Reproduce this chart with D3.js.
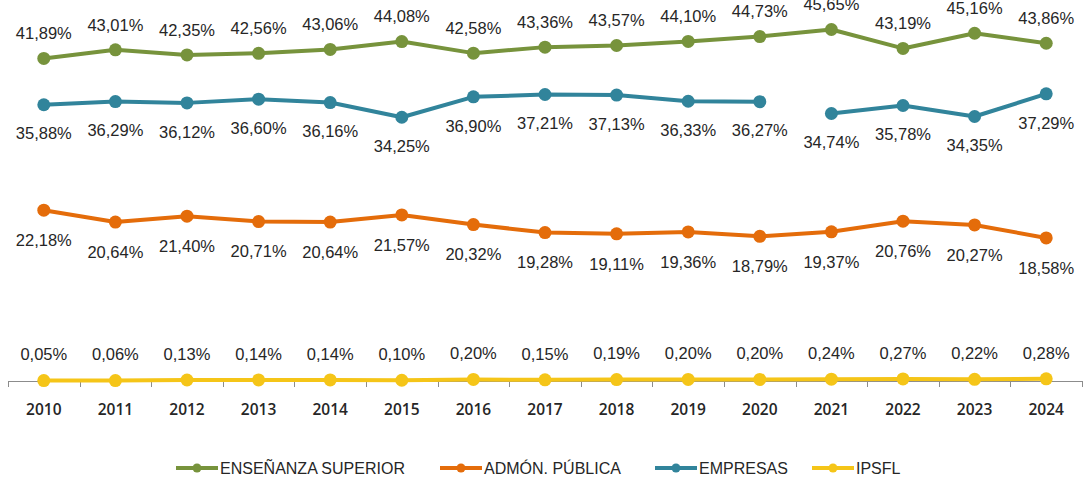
<!DOCTYPE html>
<html>
<head>
<meta charset="utf-8">
<script src="https://cdn.jsdelivr.net/npm/d3@7/dist/d3.min.js"></script>
<style>
  body { margin: 0; background: #fff; }
  text { font-family: "Liberation Sans", Arial, sans-serif; fill: #262626; }
</style>
</head>
<body>
<div id="vis"></div>
<script>
const years = ["2010","2011","2012","2013","2014","2015","2016","2017","2018","2019","2020","2021","2022","2023","2024"];

const ensenanza = [41.89, 43.01, 42.35, 42.56, 43.06, 44.08, 42.58, 43.36, 43.57, 44.10, 44.73, 45.65, 43.19, 45.16, 43.86];
const admon     = [22.18, 20.64, 21.40, 20.71, 20.64, 21.57, 20.32, 19.28, 19.11, 19.36, 18.79, 19.37, 20.76, 20.27, 18.58];
const empresas  = [35.88, 36.29, 36.12, 36.60, 36.16, 34.25, 36.90, 37.21, 37.13, 36.33, 36.27, 34.74, 35.78, 34.35, 37.29];
const ipsfl     = [0.05, 0.06, 0.13, 0.14, 0.14, 0.10, 0.20, 0.15, 0.19, 0.20, 0.20, 0.24, 0.27, 0.22, 0.28];

// the EMPRESAS line is not joined after these years
const empresasBreaks = ["2020"];

const seriesNames = ["ENSEÑANZA SUPERIOR", "ADMÓN. PÚBLICA", "EMPRESAS", "IPSFL"];

const width = 1083, height = 483;

const series = [
  {name: seriesNames[0], values: ensenanza, color: "#77933c", labelDy: -25, breaks: []},
  {name: seriesNames[1], values: admon,     color: "#e46c0a", labelDy: 30,  breaks: []},
  {name: seriesNames[2], values: empresas,  color: "#31849b", labelDy: 29,  breaks: empresasBreaks},
  {name: seriesNames[3], values: ipsfl,     color: "#f5c518", labelDy: -26, breaks: []}
];

const x = d3.scaleBand().domain(years).range([8, 1082]).padding(0);
const y = d3.scaleLinear().domain([0, 50]).range([381, -4]);
const cx = yr => x(yr) + x.bandwidth() / 2;

const svg = d3.select("#vis").append("svg").attr("width", width).attr("height", height);

// x axis
const axisY = y(0);
svg.append("line")
  .attr("x1", 8).attr("x2", width).attr("y1", axisY + 0.5).attr("y2", axisY + 0.5)
  .attr("stroke", "#8c8c8c").attr("stroke-width", 1);

svg.selectAll("line.tick").data(years.concat(["end"]))
  .enter().append("line")
  .attr("class", "tick")
  .attr("x1", (d, i) => Math.round(x.range()[0] + i * x.bandwidth()) + 0.5)
  .attr("x2", (d, i) => Math.round(x.range()[0] + i * x.bandwidth()) + 0.5)
  .attr("y1", axisY).attr("y2", axisY + 6)
  .attr("stroke", "#8c8c8c");

svg.selectAll("text.year").data(years)
  .enter().append("text")
  .attr("class", "year")
  .attr("x", d => cx(d))
  .attr("y", 415)
  .attr("text-anchor", "middle")
  .attr("font-size", "15.5px")
  .attr("font-weight", 600)
  .style("font-family", "'Open Sans', sans-serif")
  .text(d => d);

const line = d3.line().x(d => cx(d.year)).y(d => y(d.value));

series.forEach(s => {
  const pts = years.map((yr, i) => ({year: yr, value: s.values[i]}));
  // split into segments at the breaks
  const segments = [[]];
  pts.forEach(p => {
    segments[segments.length - 1].push(p);
    if (s.breaks.includes(p.year)) segments.push([]);
  });

  const g = svg.append("g");
  g.selectAll("path").data(segments)
    .enter().append("path")
    .attr("d", line)
    .attr("fill", "none")
    .attr("stroke", s.color)
    .attr("stroke-width", 4)
    .attr("stroke-linejoin", "round");

  g.selectAll("circle").data(pts)
    .enter().append("circle")
    .attr("cx", d => cx(d.year))
    .attr("cy", d => y(d.value))
    .attr("r", 6.5)
    .attr("fill", s.color);

  g.selectAll("text").data(pts)
    .enter().append("text")
    .attr("x", d => cx(d.year))
    .attr("y", d => y(d.value) + s.labelDy)
    .attr("dy", "0.35em")
    .attr("text-anchor", "middle")
    .attr("font-size", "16.5px")
    .text(d => d.value.toFixed(2).replace(".", ",") + "%");
});

// legend
const legendX = [176, 440, 655, 812];
const legend = svg.selectAll("g.legend").data(series)
  .enter().append("g")
  .attr("class", "legend")
  .attr("transform", (d, i) => `translate(${legendX[i]},468)`);

legend.append("line")
  .attr("x1", 0).attr("x2", 42).attr("y1", 0).attr("y2", 0)
  .attr("stroke", d => d.color).attr("stroke-width", 4);
legend.append("circle")
  .attr("cx", 21).attr("cy", 0).attr("r", 4.5)
  .attr("fill", d => d.color);
legend.append("text")
  .attr("x", 44).attr("y", 0).attr("dy", "0.36em")
  .attr("font-size", "16px")
  .text(d => d.name);
</script>
</body>
</html>
